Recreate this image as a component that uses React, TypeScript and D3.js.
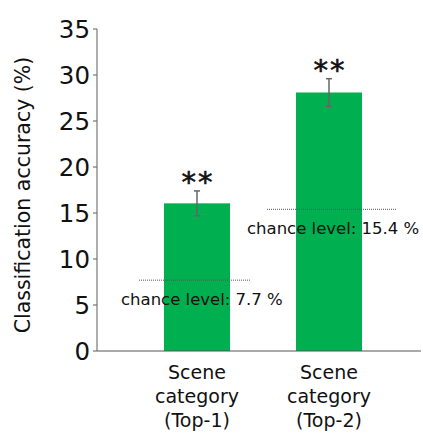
import React from "react";
import * as d3 from "d3";

const categories = [
  ["Scene", "category", "(Top-1)"],
  ["Scene", "category", "(Top-2)"],
];
const accuracy = [16.05, 28.1];
const errors = [1.35, 1.5];
const chanceLevels = [7.7, 15.4];
const chanceLabels = ["chance level: 7.7 %", "chance level: 15.4 %"];
const yTicks = [0, 5, 10, 15, 20, 25, 30, 35];

const App = () => {
  const width = 423;
  const height = 435;
  const axisX = 97;

  // y scale: 0 at 351px, 35 at 29px
  const y = d3.scaleLinear().domain([0, 35]).range([351, 29]);

  // band scale for the two bars
  const x = d3
    .scaleBand()
    .domain(categories.map((d, i) => String(i)))
    .range([131, 395])
    .paddingInner(0.5)
    .paddingOuter(0.25);

  const font = "DejaVu Sans, Verdana, sans-serif";

  return (
    <svg
      width={width}
      height={height}
      style={{ position: "absolute", left: 0, top: 0 }}
      fontFamily={font}
    >
      <rect width={width} height={height} fill="#fff" />

      {/* bars */}
      {accuracy.map((v, i) => (
        <rect
          key={"bar" + i}
          x={x(String(i))}
          y={y(v)}
          width={x.bandwidth()}
          height={y(0) - y(v)}
          fill="#00B050"
        />
      ))}

      {/* chance level lines and labels */}
      {chanceLevels.map((c, i) => {
        const cx = x(String(i)) + x.bandwidth() / 2;
        return (
          <g key={"chance" + i}>
            <line
              x1={cx - 58 - i * 4}
              x2={cx + 54 + i * 14}
              y1={y(c)}
              y2={y(c)}
              stroke="#555"
              strokeWidth={1}
              strokeDasharray="1,1"
            />
            <text
              x={i === 0 ? 121 : 247}
              y={y(c) + 25}
              fontSize={16.5}
              fill="#111"
            >
              {chanceLabels[i]}
            </text>
          </g>
        );
      })}

      {/* error bars */}
      {accuracy.map((v, i) => {
        const cx = x(String(i)) + x.bandwidth() / 2;
        return (
          <g key={"err" + i} stroke="#666" strokeWidth={1.5}>
            <line x1={cx} x2={cx} y1={y(v + errors[i])} y2={y(v - errors[i])} />
            <line x1={cx - 3} x2={cx + 3} y1={y(v + errors[i])} y2={y(v + errors[i])} />
            <line x1={cx - 3} x2={cx + 3} y1={y(v - errors[i])} y2={y(v - errors[i])} />
          </g>
        );
      })}

      {/* significance stars */}
      {accuracy.map((v, i) => {
        const cx = x(String(i)) + x.bandwidth() / 2;
        return (
          <text
            key={"star" + i}
            x={cx + 1}
            y={y(v + errors[i]) + 1}
            textAnchor="middle"
            fontSize={29}
            letterSpacing={2}
            stroke="#111"
            strokeWidth={0.6}
            fill="#111"
          >
            **
          </text>
        );
      })}

      {/* axes */}
      <line x1={axisX} x2={axisX} y1={y(35)} y2={y(0)} stroke="#777" strokeWidth={1.2} />
      <line x1={axisX} x2={421} y1={y(0)} y2={y(0)} stroke="#555" strokeWidth={1.2} />
      {yTicks.map((t) => (
        <g key={"tick" + t}>
          <line x1={axisX - 4} x2={axisX} y1={y(t)} y2={y(t)} stroke="#777" strokeWidth={1.2} />
          <text
            x={axisX - 7}
            y={y(t)}
            dy="0.36em"
            textAnchor="end"
            fontSize={24.5}
            fill="#111"
          >
            {t}
          </text>
        </g>
      ))}

      {/* y label */}
      <text
        transform={`translate(30, 195) rotate(-90)`}
        textAnchor="middle"
        fontSize={20.5}
        fill="#111"
      >
        Classification accuracy (%)
      </text>

      {/* category labels */}
      {categories.map((lines, i) => {
        const cx = x(String(i)) + x.bandwidth() / 2;
        return (
          <text key={"cat" + i} textAnchor="middle" fontSize={19} fill="#111">
            {lines.map((l, j) => (
              <tspan key={j} x={cx} y={379 + j * 24}>
                {l}
              </tspan>
            ))}
          </text>
        );
      })}
    </svg>
  );
};

export default App;
